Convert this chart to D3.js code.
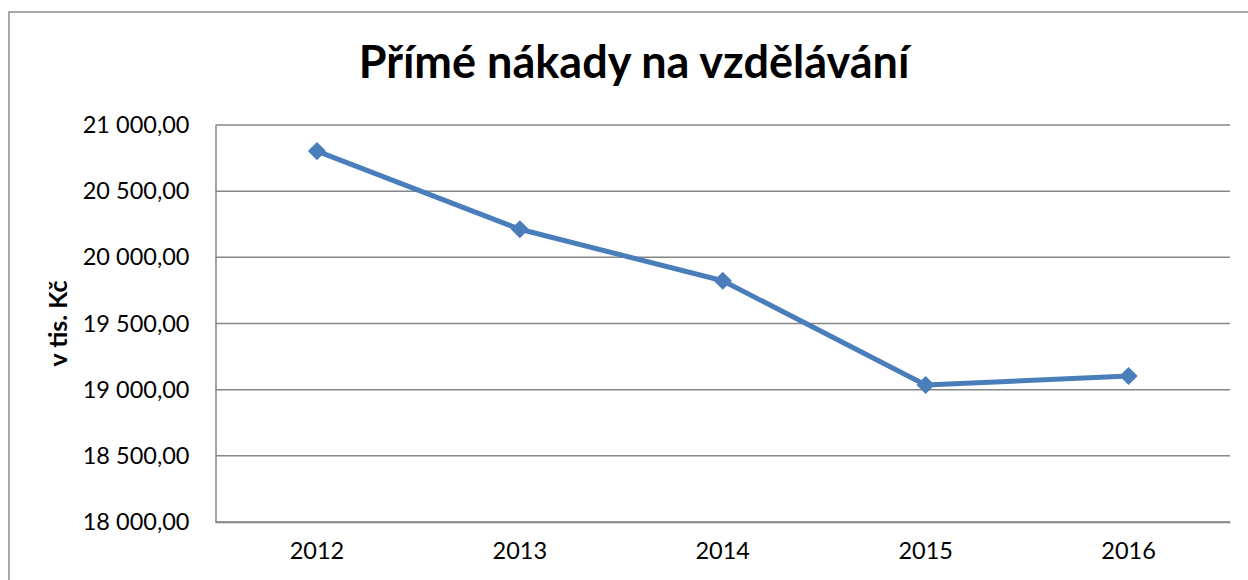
<!DOCTYPE html>
<html>
<head>
<meta charset="utf-8">
<script src="https://cdn.jsdelivr.net/npm/d3@7"></script>
<style>
  body { margin: 0; background: #fff; }
  svg { display: block; font-family: Lato, "Open Sans", sans-serif; }
</style>
</head>
<body>
<svg id="chart" width="1248" height="580"></svg>
<script>
const years = ['2012', '2013', '2014', '2015', '2016']
const costs = [20803, 20212, 19823, 19035, 19103]
const yTicks = [18000, 18500, 19000, 19500, 20000, 20500, 21000]

const svg = d3.select('#chart')

const plotLeft = 215.5, plotRight = 1230, plotTop = 125, plotBottom = 522

// outer frame, cut off at right and bottom like the original
svg.append('rect')
  .attr('x', 9).attr('y', 12)
  .attr('width', 1260).attr('height', 600)
  .attr('fill', 'none')
  .attr('stroke', '#8c8c8c')
  .attr('stroke-width', 1.5)

const x = d3.scaleBand()
  .domain(years)
  .range([plotLeft, plotRight])

const y = d3.scaleLinear()
  .domain([18000, 21000])
  .range([plotBottom, plotTop])

const fmt = v => d3.format(',.2f')(v).replace(',', ' ').replace('.', ',')

// gridlines
svg.append('g')
  .selectAll('line')
  .data(yTicks)
  .enter()
  .append('line')
  .attr('x1', plotLeft)
  .attr('x2', plotRight)
  .attr('y1', d => y(d))
  .attr('y2', d => y(d))
  .attr('stroke', '#868686')
  .attr('stroke-width', 1.5)

// y axis
const yAxis = svg.append('g')
  .attr('transform', `translate(${plotLeft},0)`)
  .call(d3.axisLeft(y).tickValues(yTicks).tickFormat(fmt).tickSize(0).tickPadding(26))
yAxis.select('.domain').attr('stroke', '#868686').attr('stroke-width', 1.5)
yAxis.selectAll('text')
  .attr('font-family', 'Lato, "Open Sans", sans-serif')
  .attr('font-size', 23.5)
  .attr('fill', '#000')

// x axis
const xAxis = svg.append('g')
  .attr('transform', `translate(0,${plotBottom})`)
  .call(d3.axisBottom(x).tickSize(0).tickPadding(20))
xAxis.select('.domain').attr('stroke', '#868686').attr('stroke-width', 1.5)
xAxis.selectAll('text')
  .attr('font-family', 'Lato, "Open Sans", sans-serif')
  .attr('font-size', 23.5)
  .attr('fill', '#000')

// line
const line = d3.line()
  .x((d, i) => x(years[i]) + x.bandwidth() / 2)
  .y(d => y(d))

svg.append('path')
  .datum(costs)
  .attr('d', line)
  .attr('fill', 'none')
  .attr('stroke', '#4a7ebb')
  .attr('stroke-width', 5)
  .attr('stroke-linejoin', 'round')

svg.append('g')
  .selectAll('path')
  .data(costs)
  .enter()
  .append('path')
  .attr('d', d3.symbol().type(d3.symbolDiamond2).size(210))
  .attr('transform', (d, i) => `translate(${x(years[i]) + x.bandwidth() / 2},${y(d)})`)
  .attr('fill', '#4a7ebb')

// title
svg.append('text')
  .attr('x', 634)
  .attr('y', 78)
  .attr('text-anchor', 'middle')
  .attr('font-size', 45)
  .attr('font-weight', 'bold')
  .text('Přímé nákady na vzdělávání')

// y axis label
svg.append('text')
  .attr('transform', `translate(67,${(plotTop + plotBottom) / 2}) rotate(-90)`)
  .attr('text-anchor', 'middle')
  .attr('font-size', 25)
  .attr('font-weight', 'bold')
  .text('v tis. Kč')
</script>
</body>
</html>
